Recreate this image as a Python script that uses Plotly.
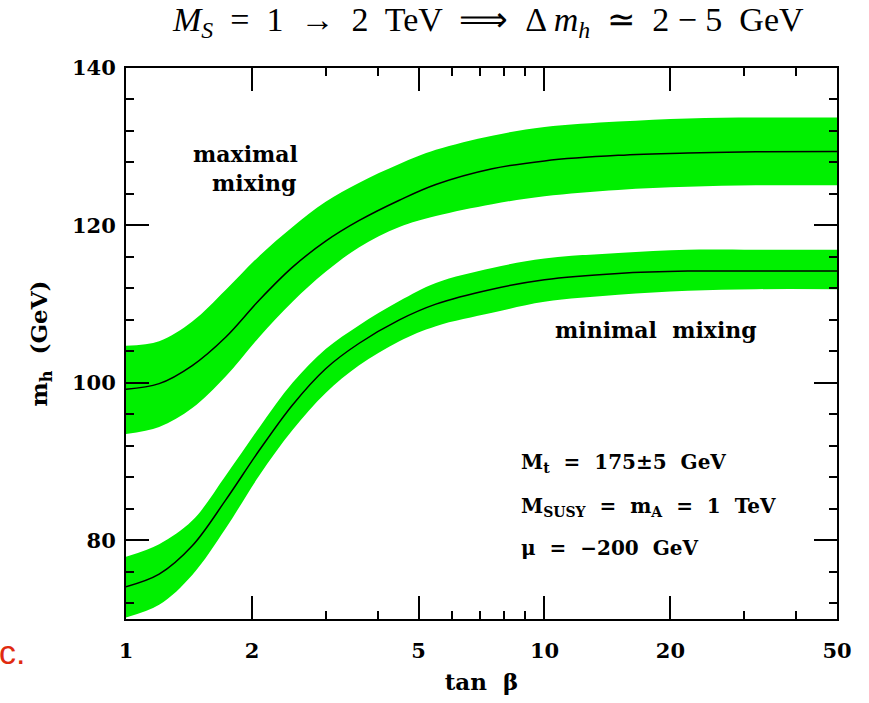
import plotly.graph_objects as go

# tan(beta) grid
tanb = [1, 1.2, 1.44, 1.73, 2.08, 2.5, 3.0, 3.6, 4.5, 5.5, 7.5, 10, 15, 22, 32, 50]

# maximal mixing (central value and band edges, GeV)
max_center = [99.2, 99.9, 102.2, 105.8, 110.5, 114.7, 118.0, 120.6, 123.2, 125.2, 127.2, 128.2, 128.9, 129.2, 129.35, 129.4]
max_upper  = [104.7, 105.3, 107.8, 111.8, 116.1, 119.8, 123.0, 125.4, 127.8, 129.6, 131.4, 132.5, 133.2, 133.6, 133.7, 133.7]
max_lower  = [93.5, 94.4, 96.8, 100.8, 105.8, 110.3, 114.1, 117.2, 119.8, 121.2, 122.7, 123.7, 124.5, 124.9, 125.1, 125.1]

# minimal mixing
min_center = [74.1, 75.7, 79.3, 85.1, 91.4, 97.2, 101.8, 105.0, 108.0, 110.0, 111.9, 113.1, 113.9, 114.2, 114.2, 114.2]
min_upper  = [77.9, 79.5, 82.5, 88.2, 94.3, 100.0, 104.3, 107.3, 110.4, 112.7, 114.6, 115.8, 116.5, 116.9, 116.9, 116.9]
min_lower  = [70.2, 71.8, 75.6, 81.5, 88.2, 94.0, 98.7, 102.2, 105.3, 107.2, 108.9, 110.3, 111.2, 111.7, 111.9, 111.9]

x_ticks = [1, 2, 5, 10, 20, 50]
x_minor = [3, 4, 6, 7, 8, 9, 30, 40]
y_ticks = [80, 100, 120, 140]

GREEN = "#00f000"
FONT = "DejaVu Serif"

fig = go.Figure()
for lo, hi, c in [(max_lower, max_upper, max_center), (min_lower, min_upper, min_center)]:
    fig.add_trace(go.Scatter(x=tanb, y=lo, mode="lines",
                             line=dict(width=0, shape="spline", smoothing=1, color=GREEN),
                             showlegend=False, hoverinfo="skip"))
    fig.add_trace(go.Scatter(x=tanb, y=hi, mode="lines",
                             line=dict(width=0, shape="spline", smoothing=1, color=GREEN),
                             fill="tonexty", fillcolor=GREEN, showlegend=False, hoverinfo="skip"))
    fig.add_trace(go.Scatter(x=tanb, y=c, mode="lines",
                             line=dict(width=1.5, shape="spline", smoothing=1, color="black"),
                             showlegend=False))

axis_common = dict(showline=True, linecolor="black", linewidth=2, mirror="ticks", ticks="inside",
                   ticklen=23, tickwidth=2, tickcolor="black", showgrid=False, zeroline=False,
                   tickfont=dict(family=FONT, size=21, color="black", weight="bold"))

fig.update_xaxes(type="log", range=[0, 1.69897], tickmode="array", tickvals=x_ticks,
                 ticktext=[str(v) for v in x_ticks],
                 minor=dict(tickmode="array", tickvals=x_minor, ticks="inside", ticklen=8, tickwidth=2,
                            tickcolor="black"),
                 title=dict(text="<b>tan  β</b>", font=dict(family=FONT, size=23, color="black"), standoff=12),
                 ticklabelstandoff=12,
                 **axis_common)
fig.update_yaxes(range=[70, 140], tickmode="array", tickvals=y_ticks,
                 ticktext=[str(v) for v in y_ticks],
                 minor=dict(dtick=4, tick0=0, ticks="inside", ticklen=8, tickwidth=2, tickcolor="black"),
                 title=dict(text="<b>m<sub>h</sub>  (GeV)</b>", font=dict(family=FONT, size=23, color="black"),
                            standoff=18),
                 ticklabelstandoff=4,
                 **axis_common)


def px2paper(px, py):
    return (px - 126) / 711, (625 - py) / 557


annots = []


def add(text, px, py, size=21, xanchor="center", family=FONT, color="black"):
    x, y = px2paper(px, py)
    annots.append(dict(text=text, x=x, y=y, xref="paper", yref="paper", xanchor=xanchor, yanchor="middle",
                       showarrow=False, font=dict(family=family, size=size, color=color)))


add("<b>maximal</b>", 245, 155, size=22)
add("<b>mixing</b>", 254, 184, size=22)
add("<b>minimal  mixing</b>", 656, 333, size=22)
add("<b>M<sub>t</sub>  =  175±5  GeV</b>", 519, 467, size=20, xanchor="left")
add("<b>M<sub>SUSY</sub>  =  m<sub>A</sub>  =  1  TeV</b>", 519, 512, size=20, xanchor="left")
add("<b>μ  =  −200  GeV</b>", 519, 553, size=20, xanchor="left")
add("<i>M<sub>S</sub></i>  =  1  →  2  TeV  ⟹  Δ <i>m<sub>h</sub></i>  ≃  2 − 5  GeV", 488, 22, size=34,
    family="Liberation Serif")
x, y = px2paper(27, 658)
annots.append(dict(text="c.", x=x, y=y, xref="paper", yref="paper", xanchor="right", yanchor="middle",
                   showarrow=False, font=dict(family="Liberation Sans", size=34, color="#e02a10")))

fig.update_layout(width=869, height=703, margin=dict(l=126, r=32, t=68, b=78),
                  plot_bgcolor="white", paper_bgcolor="white", annotations=annots)

fig.write_html("out.html")
